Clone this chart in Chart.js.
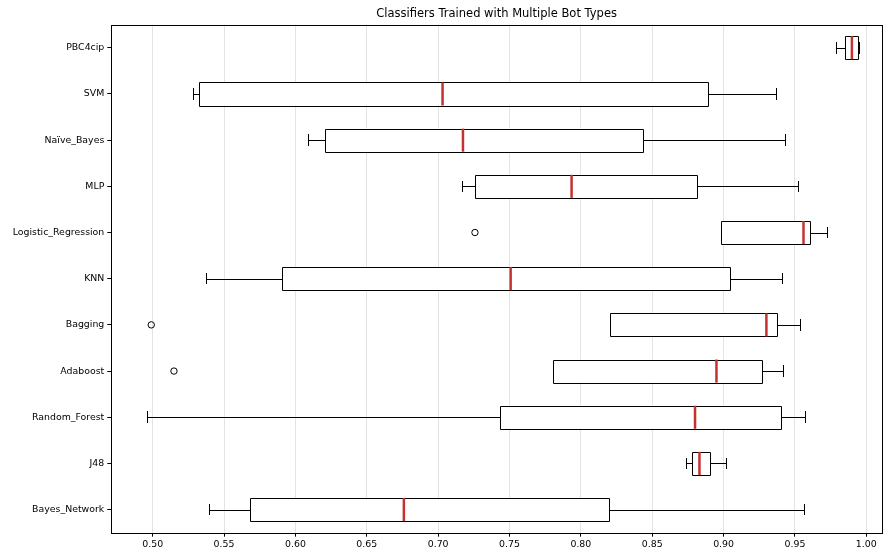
<!DOCTYPE html>
<html>
<head>
<meta charset="utf-8">
<script src="https://cdn.jsdelivr.net/npm/chart.js@4/dist/chart.umd.min.js"></script>
<style>
  body { margin: 0; background: #fff; }
</style>
</head>
<body>
<canvas id="myChart" width="883" height="552"></canvas>
<script>
// box plot values, top to bottom
var categories = ['PBC4cip', 'SVM', 'Naïve_Bayes', 'MLP', 'Logistic_Regression', 'KNN',
                  'Bagging', 'Adaboost', 'Random_Forest', 'J48', 'Bayes_Network'];
var whiskerLow  = [0.9787, 0.528, 0.6087, 0.7169, 0.898, 0.5374, 0.8205, 0.7805, 0.496, 0.8735, 0.5393];
var q1          = [0.985, 0.5323, 0.621, 0.726, 0.898, 0.5909, 0.8205, 0.7805, 0.743, 0.8777, 0.568];
var median      = [0.9899, 0.7031, 0.7174, 0.7935, 0.956, 0.7508, 0.930, 0.895, 0.880, 0.8831, 0.676];
var q3          = [0.9941, 0.8888, 0.8438, 0.8815, 0.9605, 0.9048, 0.9376, 0.9266, 0.9404, 0.8903, 0.8195];
var whiskerHigh = [0.995, 0.9365, 0.9427, 0.9518, 0.9724, 0.9408, 0.9535, 0.9415, 0.9567, 0.9015, 0.9565];
var outliers    = [[], [], [], [], [0.7258], [], [0.499], [0.5149], [], [], []];
var xTicks = [0.50, 0.55, 0.60, 0.65, 0.70, 0.75, 0.80, 0.85, 0.90, 0.95, 1.00];

var FONT = 'DejaVu Sans';

// snap to pixel centre so 1px lines stay crisp
function px(v) { return Math.round(v) + 0.5; }

var boxPlugin = {
    id: 'boxExtras',
    afterDatasetsDraw: function (chart) {
        var ctx = chart.ctx;
        var xs = chart.scales.x, ys = chart.scales.y;
        var band = Math.abs(ys.getPixelForValue(1) - ys.getPixelForValue(0));
        var capHalf = band * 0.125;
        var boxHalf = band * 0.25;
        ctx.save();
        for (var i = 0; i < categories.length; i++) {
            var yc = ys.getPixelForValue(i);
            var y = px(yc);
            var wl = px(xs.getPixelForValue(whiskerLow[i]));
            var wh = px(xs.getPixelForValue(whiskerHigh[i]));
            var b1 = px(xs.getPixelForValue(q1[i]));
            var b3 = px(xs.getPixelForValue(q3[i]));
            var top = px(yc - boxHalf), bot = px(yc + boxHalf);
            ctx.strokeStyle = '#000';
            ctx.lineWidth = 1;
            ctx.beginPath();
            ctx.rect(b1, top, b3 - b1, bot - top);
            ctx.moveTo(wl, y); ctx.lineTo(b1, y);
            ctx.moveTo(b3, y); ctx.lineTo(wh, y);
            ctx.moveTo(wl, Math.round(yc - capHalf)); ctx.lineTo(wl, Math.round(yc + capHalf));
            ctx.moveTo(wh, Math.round(yc - capHalf)); ctx.lineTo(wh, Math.round(yc + capHalf));
            ctx.stroke();
            // median
            var m = xs.getPixelForValue(median[i]);
            ctx.strokeStyle = '#c4322f';
            ctx.lineWidth = 2.5;
            ctx.beginPath();
            ctx.moveTo(m, yc - boxHalf); ctx.lineTo(m, yc + boxHalf);
            ctx.stroke();
            // fliers
            ctx.strokeStyle = '#000';
            ctx.lineWidth = 1;
            outliers[i].forEach(function (v) {
                ctx.beginPath();
                ctx.arc(xs.getPixelForValue(v), yc, 3.2, 0, Math.PI * 2);
                ctx.stroke();
            });
        }
        ctx.restore();
    },
    afterDraw: function (chart) {
        var ctx = chart.ctx, a = chart.chartArea;
        ctx.save();
        ctx.strokeStyle = '#000';
        ctx.lineWidth = 1;
        ctx.strokeRect(px(a.left), px(a.top), Math.round(a.right - a.left), Math.round(a.bottom - a.top));
        ctx.fillStyle = '#000';
        ctx.font = '11.5px "' + FONT + '"';
        ctx.textAlign = 'center';
        ctx.textBaseline = 'bottom';
        ctx.fillText('Classifiers Trained with Multiple Bot Types', (a.left + a.right) / 2, a.top - 4.5);
        ctx.restore();
    }
};

var ctx = document.getElementById('myChart').getContext('2d');
var myChart = new Chart(ctx, {
    type: 'bar',
    data: {
        labels: categories,
        datasets: [{
            data: categories.map(function (c, i) { return [q1[i], q3[i]]; }),
            backgroundColor: '#fff',
            borderWidth: 0,
            barPercentage: 0.5,
            categoryPercentage: 1
        }]
    },
    options: {
        indexAxis: 'y',
        responsive: false,
        animation: false,
        layout: { padding: { top: 24.7, right: 1, bottom: 0, left: 0 } },
        plugins: {
            legend: { display: false },
            tooltip: { enabled: false }
        },
        scales: {
            x: {
                type: 'linear',
                min: 0.471,
                max: 1.011,
                afterBuildTicks: function (scale) {
                    scale.ticks = xTicks.map(function (v) { return { value: v }; });
                },
                afterFit: function (scale) { scale.height = 19.3; },
                grid: { color: '#e3e3e3', tickColor: '#000', tickLength: 4 },
                border: { display: false },
                ticks: {
                    padding: 2,
                    color: '#000',
                    font: { family: FONT, size: 9.4 },
                    maxRotation: 0,
                    callback: function (v) { return Number(v).toFixed(2); }
                }
            },
            y: {
                afterFit: function (scale) { scale.width = 111.3; },
                grid: { drawOnChartArea: false, offset: false, tickColor: '#000', tickLength: 4 },
                border: { display: false },
                ticks: {
                    padding: 3,
                    color: '#000',
                    font: { family: FONT, size: 9.4 }
                }
            }
        }
    },
    plugins: [boxPlugin]
});
</script>
</body>
</html>
